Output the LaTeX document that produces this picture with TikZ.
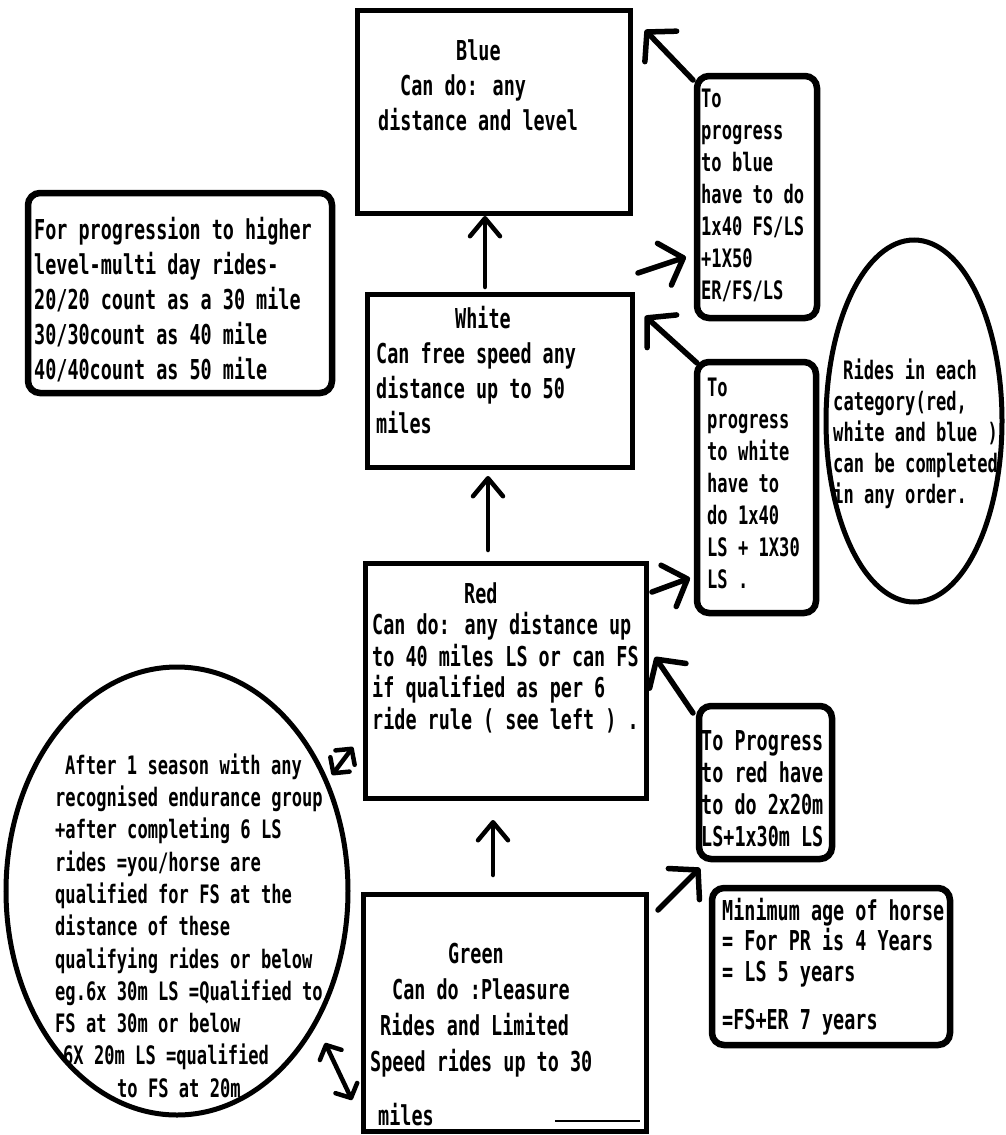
\documentclass[tikz,border=0pt]{standalone}
\usepackage{fontspec}
\setmainfont{DejaVu Sans Mono}[FakeStretch=0.673]
\usetikzlibrary{arrows.meta,shapes.geometric}
\begin{document}
\begin{tikzpicture}[x=1pt,y=-1pt,
  mainbox/.style={draw, line width=5pt, rectangle, inner sep=0pt},
  rbox/.style={draw, line width=6.5pt, rectangle, rounded corners=12pt, inner sep=0pt},
  oval/.style={draw, line width=5pt, ellipse, inner sep=0pt},
  bigtxt/.style={anchor=north west, inner sep=0pt, align=left},
  varr/.style={line width=4.5pt, line cap=round, -{Straight Barb[length=18pt,width=30pt,round]}},
  darr/.style={line width=5.5pt, line cap=round, -{Straight Barb[length=20pt,width=44pt,round]}},
  dbl/.style={line width=4.5pt, line cap=round, {Straight Barb[length=11pt,width=24pt,round]}-{Straight Barb[length=11pt,width=24pt,round]}}
]
\fill[white] (0,0) rectangle (1005,1135);
\useasboundingbox (0,0) rectangle (1005,1135);

% main level boxes
\node[mainbox, minimum width=273pt, minimum height=203pt] (blue) at (493.5,111.5) {};
\node[mainbox, minimum width=265pt, minimum height=173pt] (white) at (499.5,380.5) {};
\node[mainbox, minimum width=281pt, minimum height=235pt] (red) at (505.5,680.5) {};
\node[mainbox, minimum width=283pt, minimum height=237pt] (green) at (504.5,1012.5) {};

% side boxes
\node[rbox, minimum width=304pt, minimum height=200pt] (multi) at (180,293) {};
\node[rbox, minimum width=120pt, minimum height=242pt] (toblue) at (757,197) {};
\node[rbox, minimum width=119pt, minimum height=251pt] (towhite) at (756.5,487.5) {};
\node[rbox, minimum width=133pt, minimum height=153pt] (tored) at (765.5,782.5) {};
\node[rbox, minimum width=238pt, minimum height=157pt] (minage) at (831,966.5) {};
\node[oval, minimum width=342pt, minimum height=448pt] (sixrule) at (177,891) {};
\node[oval, minimum width=176pt, minimum height=362pt] (order) at (914,421) {};

% texts
\node[bigtxt, font=\fontsize{27.4pt}{35pt}\selectfont\bfseries] (tblue) at (378,36)
  {\rule{0pt}{24pt}\hspace*{78pt}Blue\\\hspace*{22pt}Can do: any\\distance and level};
\node[bigtxt, font=\fontsize{27.4pt}{35pt}\selectfont\bfseries] (twhite) at (376,304)
  {\rule{0pt}{24pt}\hspace*{79pt}White\\Can free speed any\\distance up to 50\\miles};
\node[bigtxt, font=\fontsize{27.4pt}{31.5pt}\selectfont\bfseries] (tred) at (372,579)
  {\rule{0pt}{24pt}\hspace*{92pt}Red\\Can do: any distance up\\to 40 miles LS or can FS\\if qualified as per 6\\ride rule ( see left ) .};
\node[bigtxt, font=\fontsize{27.4pt}{36pt}\selectfont\bfseries] (tgreen) at (370,939)
  {\rule{0pt}{24pt}\hspace*{78pt}Green\\\hspace*{22pt}Can do :Pleasure\\\hspace*{10pt}Rides and Limited\\Speed rides up to 30\\[18pt]\hspace*{8pt}miles};
\node[bigtxt, font=\fontsize{27.4pt}{35pt}\selectfont\bfseries] (tmulti) at (34,215)
  {\rule{0pt}{24pt}For progression to higher\\level-multi day rides-\\20/20 count as a 30 mile\\30/30count as 40 mile\\40/40count as 50 mile};
\node[bigtxt, font=\fontsize{25.4pt}{32pt}\selectfont\bfseries] (ttoblue) at (701,83)
  {\rule{0pt}{24pt}To\\progress\\to blue\\have to do\\1x40 FS/LS\\+1X50\\ER/FS/LS};
\node[bigtxt, font=\fontsize{25.4pt}{32pt}\selectfont\bfseries] (ttowhite) at (707,372)
  {\rule{0pt}{24pt}To\\progress\\to white\\have to\\do 1x40\\LS + 1X30\\LS .};
\node[bigtxt, font=\fontsize{25.4pt}{31pt}\selectfont\bfseries] (torder) at (833,355)
  {\rule{0pt}{24pt}\hspace*{10pt}Rides in each\\category(red,\\white and blue )\\can be completed\\in any order.};
\node[bigtxt, font=\fontsize{27.4pt}{32pt}\selectfont\bfseries] (ttored) at (701,726)
  {\rule{0pt}{24pt}To Progress\\to red have\\to do 2x20m\\LS+1x30m LS};
\node[bigtxt, font=\fontsize{27.4pt}{30.5pt}\selectfont\bfseries] (tminage) at (722,896)
  {\rule{0pt}{24pt}Minimum age of horse\\= For PR is 4 Years\\= LS 5 years\\[18pt]=FS+ER 7 years};
\node[bigtxt, font=\fontsize{25.4pt}{32.3pt}\selectfont\bfseries] (tsixrule) at (55,750)
  {\rule{0pt}{24pt}\hspace*{10pt}After 1 season with any\\recognised endurance group\\+after completing 6 LS\\rides =you/horse are\\qualified for FS at the\\distance of these\\qualifying rides or below\\eg.6x 30m LS =Qualified to\\FS at 30m or below\\\hspace*{8pt}6X 20m LS =qualified\\\hspace*{62pt}to FS at 20m};

% small line in green box
\draw[line width=2pt] (555,1121) -- (640,1121);

% connector end points
\coordinate (wb1) at (485,287); \coordinate (wb2) at (485,216);
\coordinate (rw1) at (488,550); \coordinate (rw2) at (488,476);
\coordinate (gr1) at (493,875); \coordinate (gr2) at (493,820);
\coordinate (tb1) at (693,80);  \coordinate (tb2) at (645,30);
\coordinate (wt1) at (638,273); \coordinate (wt2) at (686,257);
\coordinate (tw1) at (697,363); \coordinate (tw2) at (645,316);
\coordinate (rt1) at (652,592); \coordinate (rt2) at (690,578);
\coordinate (tr1) at (693,713); \coordinate (tr2) at (655,657);
\coordinate (gt1) at (658,910); \coordinate (gt2) at (700,868);
\coordinate (sr1) at (332,775); \coordinate (sr2) at (353,747);
\coordinate (sg1) at (325,1043); \coordinate (sg2) at (352,1100);

% connectors
\draw[varr] (wb1) -- (wb2);
\draw[varr] (rw1) -- (rw2);
\draw[varr] (gr1) -- (gr2);
\draw[darr] (tb1) -- (tb2);
\draw[darr] (wt1) -- (wt2);
\draw[darr] (tw1) -- (tw2);
\draw[darr] (rt1) -- (rt2);
\draw[darr] (tr1) -- (tr2);
\draw[darr] (gt1) -- (gt2);
\draw[dbl] (sr1) -- (sr2);
\draw[dbl] (sg1) -- (sg2);
\end{tikzpicture}
\end{document}
